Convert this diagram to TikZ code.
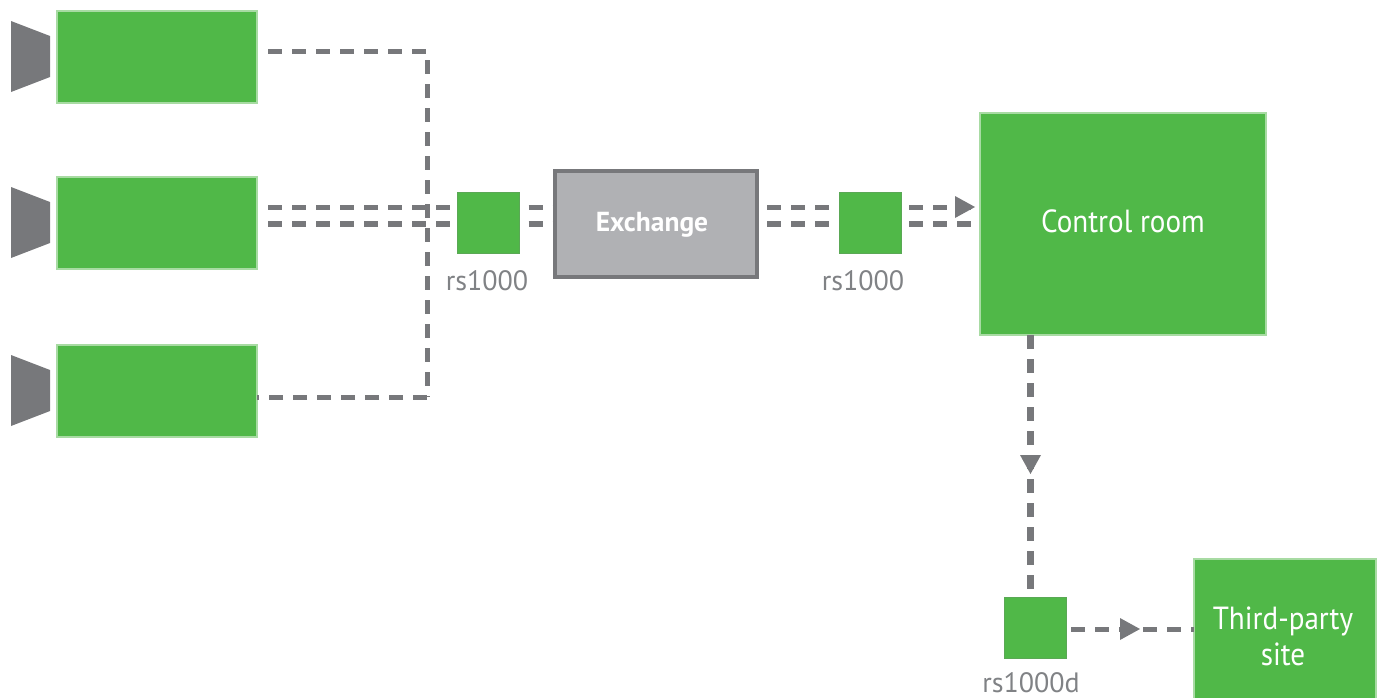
\documentclass[tikz,border=0pt]{standalone}
\usepackage{fontspec}
\setmainfont{PT Sans}
\newfontfamily\narrowfont[FakeStretch=0.91]{PT Sans}
\definecolor{grn}{HTML}{50B848}
\definecolor{grnedge}{HTML}{A8DBA3}
\definecolor{dk}{HTML}{77787B}
\definecolor{exfill}{HTML}{B0B1B4}
\definecolor{lbl}{HTML}{808285}
\tikzset{
  x=1pt,y=-1pt,
  bigbox/.style={fill=grn,draw=grnedge,line width=1.2pt,inner sep=0pt,outer sep=0pt,minimum width=#1},
  smallbox/.style={fill=grn,draw=grn!75!dk,line width=1pt,inner sep=0pt,outer sep=0pt,minimum width=62pt,minimum height=61pt},
  cambox/.style={bigbox=200pt,minimum height=92pt},
  exbox/.style={fill=exfill,draw=dk,line width=4.5pt,inner sep=0pt,outer sep=0pt,minimum width=202pt,minimum height=106pt},
  boxtxt/.style={text=white,font=\narrowfont\fontsize{32}{38}\selectfont,align=center},
  smalltxt/.style={text=lbl,inner sep=0pt,font=\fontsize{28}{30}\selectfont},
  dashthin/.style={draw=dk,line width=5pt,dash pattern=on 14pt off 10pt},
  dashthick/.style={draw=dk,line width=6.5pt,dash pattern=on 14pt off 10pt},
  tipshape/.style={fill=dk,draw=none},
  lens/.style={fill=dk,draw=none}
}
\begin{document}
\begin{tikzpicture}
\useasboundingbox (0,0) rectangle (1381,697);
\node[cambox] (c1) at (157,57) {};
\node[cambox] (c2) at (157,223) {};
\node[cambox] (c3) at (157,391) {};
\node[smallbox] (r1) at (488.5,223) {};
\node[exbox] (ex) at (656,224) {};
\node[smallbox] (r2) at (870,223) {};
\node[bigbox=286pt,minimum height=222pt] (ctrl) at (1123,224) {};
\node[smallbox] (r3) at (1035,628) {};
\coordinate (j1) at (427,51);
\coordinate (j3) at (427,397);
\coordinate (j1b) at (427,60);
\draw[dashthin] ([xshift=11pt]c1.east |- j1) -- (j1);
\draw[dashthin] (j1b) -- (j3);
\draw[dashthin] (j3) -- (c3.east |- j3);
\foreach \yy/\st in {207/dashthin,224/dashthick}{
  \coordinate (ya) at (0,\yy);
  \draw[\st] ([xshift=11pt]c2.east |- ya) -- (r1.west |- ya);
  \draw[\st] ([xshift=9pt]r1.east |- ya) -- (ex.west |- ya);
  \draw[\st] ([xshift=10pt]ex.east |- ya) -- (r2.west |- ya);
  \draw[\st] ([xshift=8pt]r2.east |- ya) -- (ctrl.west |- ya);
}
\coordinate (vx) at (1030,0);
\draw[draw=dk,line width=7pt,dash pattern=on 14pt off 10pt] (vx |- ctrl.south) -- ([yshift=7pt]vx |- r3.north);
\coordinate (hy) at (0,629);
\node[bigbox=182pt,minimum height=140pt,anchor=north west] (tp) at (1194,559) {};
\draw[dashthin] ([xshift=5pt]r3.east |- hy) -- (tp.west |- hy);
\fill[tipshape] (955,196) -- (975,207) -- (955,218) -- cycle;
\fill[tipshape] (1020,455) -- (1041,455) -- (1030.5,474) -- cycle;
\fill[tipshape] (1120,618) -- (1140,629) -- (1120,640) -- cycle;
\foreach \c in {c1,c2,c3}{
  \fill[lens] ([shift={(-46pt,-35pt)}]\c.west) -- ([shift={(-7pt,-20pt)}]\c.west) -- ([shift={(-7pt,21pt)}]\c.west) -- ([shift={(-46pt,36pt)}]\c.west) -- cycle;
}
\node[boxtxt,font=\fontsize{27.5}{36}\selectfont\bfseries] (extxt) at (652,225) {Exchange};
\node[boxtxt] (cttxt) at (1123,221) {Control room};
\node[boxtxt] (tptxt) at (1283,636) {Third-party\\[-2pt]site};
\node[smalltxt,anchor=base] (l1) at (487,290) {rs1000};
\node[smalltxt,anchor=base] (l2) at (863,290) {rs1000};
\node[smalltxt,anchor=base] (l3) at (1031,692) {rs1000d};
\end{tikzpicture}
\end{document}
